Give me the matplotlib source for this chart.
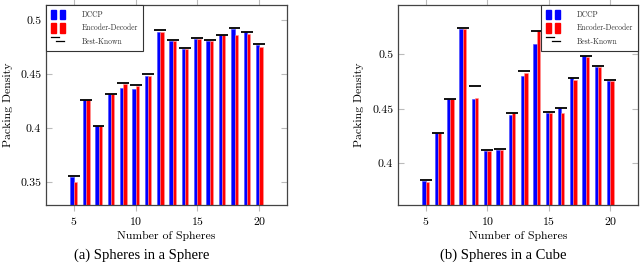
import numpy as np
import matplotlib.pyplot as plt
from matplotlib.patches import Rectangle
from matplotlib.lines import Line2D
from matplotlib.legend_handler import HandlerTuple, HandlerBase

plt.rcParams['font.family'] = 'serif'
plt.rcParams['font.serif'] = ['cmr10', 'DejaVu Serif']
plt.rcParams['axes.formatter.use_mathtext'] = True
plt.rcParams['mathtext.fontset'] = 'cm'

n_spheres = list(range(5, 21))

# spheres in a sphere
sph_dccp = [0.355, 0.426, 0.402, 0.432, 0.4377, 0.4361, 0.4484, 0.4889,
            0.481, 0.4735, 0.483, 0.481, 0.486, 0.492, 0.489, 0.4775]
sph_encdec = [0.350, 0.426, 0.402, 0.432, 0.4407, 0.4395, 0.4484, 0.4889,
              0.481, 0.4735, 0.483, 0.481, 0.486, 0.4864, 0.487, 0.4756]
sph_best = [0.3555, 0.4266, 0.4021, 0.4321, 0.4417, 0.4401, 0.4503, 0.491,
            0.4818, 0.4744, 0.484, 0.4815, 0.4864, 0.4929, 0.4895, 0.4778]

# spheres in a cube
cube_dccp = [0.384, 0.4275, 0.459, 0.523, 0.459, 0.4115, 0.4119, 0.4443,
             0.4798, 0.5094, 0.446, 0.4505, 0.478, 0.4982, 0.4885, 0.4755]
cube_encdec = [0.3832, 0.4275, 0.459, 0.523, 0.4602, 0.4115, 0.4119, 0.4457,
               0.4831, 0.5211, 0.446, 0.4465, 0.4764, 0.4975, 0.4888, 0.4755]
cube_best = [0.3847, 0.4281, 0.459, 0.5238, 0.4709, 0.4125, 0.4129, 0.4465,
             0.4844, 0.5216, 0.4468, 0.451, 0.4785, 0.4987, 0.4895, 0.4762]


class OffsetLines(HandlerBase):
    # two short staggered dashes, like the pgfplots legend mark
    def create_artists(self, legend, orig, xd, yd, width, height, fontsize, trans):
        l1 = Line2D([0, width * 0.55], [height * 0.75] * 2, color='black', lw=0.9)
        l2 = Line2D([width * 0.4, width * 0.95], [height * 0.35] * 2, color='black', lw=0.9)
        for l in (l1, l2):
            l.set_transform(trans)
        return [l1, l2]


fig = plt.figure(figsize=(6.4, 2.68), dpi=100)
ax1 = fig.add_axes([0.0719, 0.235, 0.3766, 0.746])
ax2 = fig.add_axes([0.622, 0.235, 0.375, 0.746])

w = 0.27
x = np.array(n_spheres)

def draw(ax, dccp, encdec, best, ylim, yticks, ytl, legend_loc):
    ax.bar(x - w / 2, dccp, width=w, color='#0000ff', edgecolor='#4444ff', linewidth=0.4)
    ax.bar(x + w / 2, encdec, width=w, color='#ff0000', edgecolor='#ff9999', linewidth=0.4)
    ax.hlines(best, x - 0.48, x + 0.48, color='black', linewidth=1.3)
    ax.set_xlim(2.75, 22.25)
    ax.set_ylim(*ylim)
    ax.set_xticks([5, 10, 15, 20])
    ax.set_yticks(yticks)
    ax.set_yticklabels(ytl)
    ax.tick_params(axis='x', direction='out', top=True, color='#bbbbbb', length=4, labelsize=8.5, pad=3)
    ax.tick_params(axis='y', direction='in', right=True, color='#bbbbbb', length=4, labelsize=8.5)
    for s in ax.spines.values():
        s.set_color('#444444')
        s.set_linewidth(0.9)
    ax.set_xlabel('Number of Spheres', fontsize=8.5, labelpad=3)
    ax.set_ylabel('Packing Density', fontsize=8.5)
    h_b = (Rectangle((0, 0), 1, 1, color='#0000ff'), Rectangle((0, 0), 1, 1, color='#0000ff'))
    h_r = (Rectangle((0, 0), 1, 1, color='#ff0000'), Rectangle((0, 0), 1, 1, color='#ff0000'))
    h_k = Line2D([], [], color='black', linewidth=1.0)
    leg = ax.legend([h_b, h_r, h_k], ['DCCP', 'Encoder-Decoder', 'Best-Known'],
                    handler_map={tuple: HandlerTuple(ndivide=None, pad=0.5),
                                 h_k: OffsetLines()},
                    loc=legend_loc, fontsize=5.5, fancybox=False, framealpha=1,
                    edgecolor='#333333', borderaxespad=0, handlelength=1.9,
                    handleheight=1.5, labelspacing=0.55, borderpad=0.6,
                    handletextpad=2.2)
    for t in leg.get_texts():
        t.set_color('#333333')
    leg.get_frame().set_linewidth(0.8)

draw(ax1, sph_dccp, sph_encdec, sph_best, (0.329, 0.514),
     [0.35, 0.4, 0.45, 0.5], ['0.35', '0.4', '0.45', '0.5'], 'upper left')
draw(ax2, cube_dccp, cube_encdec, cube_best, (0.3617, 0.5452),
     [0.4, 0.45, 0.5], ['0.4', '0.45', '0.5'], 'upper right')
ax1.yaxis.set_label_coords(-0.135, 0.5)
ax2.yaxis.set_label_coords(-0.14, 0.5)

fig.text(0.222, 0.035, '(a) Spheres in a Sphere', fontsize=10.5, family='Liberation Serif', ha='center')
fig.text(0.786, 0.035, '(b) Spheres in a Cube', fontsize=10.5, family='Liberation Serif', ha='center')

fig.savefig('out.png', dpi=100)
